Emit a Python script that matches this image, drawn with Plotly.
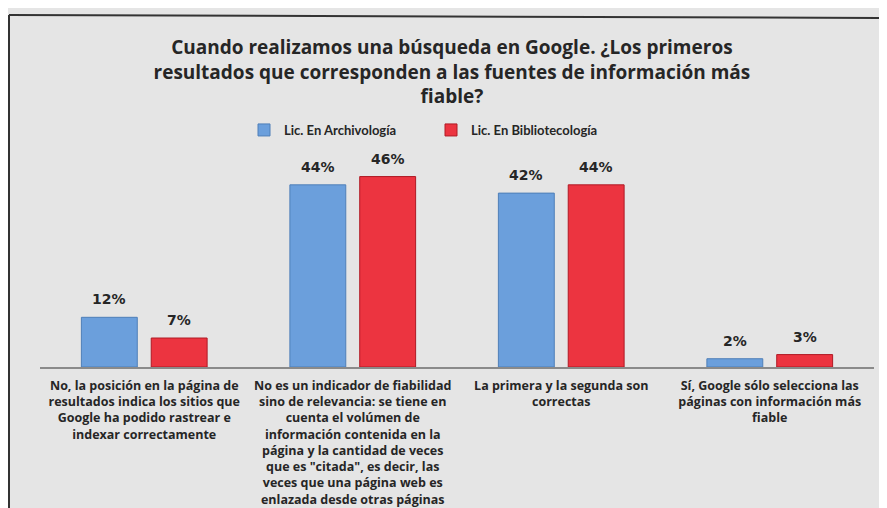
import plotly.graph_objects as go

categories = [
    "No, la posición en la página de<br>resultados indica los sitios que<br>Google ha podido rastrear e<br>indexar correctamente",
    "No es un indicador de fiabilidad<br>sino de relevancia: se tiene en<br>cuenta el volúmen de<br>información contenida en la<br>página y la cantidad de veces<br>que es \"citada\", es decir, las<br>veces que una página web es<br>enlazada desde otras páginas",
    "La primera y la segunda son<br>correctas",
    "Sí, Google sólo selecciona las<br>páginas con información más<br>fiable",
]
archivologia = [12, 44, 42, 2]
bibliotecologia = [7, 46, 44, 3]

title = ("Cuando realizamos una búsqueda en Google. ¿Los primeros<br>"
         "resultados que corresponden a las fuentes de información más<br>fiable?")

# the page body keeps an 8px margin, so the figure is drawn 8px smaller
W, H = 879, 500
L, R, T, B = 32, 13, 152, 141
dark = "#262626"

fig = go.Figure()
series = [
    ("Lic. En Archivología", archivologia, "#6b9fdc", "#4f7fb8", -35),
    ("Lic. En Bibliotecología", bibliotecologia, "#ec3440", "#b01a24", 35),
]
for name, vals, fill, edge, shift in series:
    fig.add_trace(go.Bar(
        name=name, x=categories, y=vals,
        marker=dict(color=fill, line=dict(color=edge, width=1)),
    ))
    # value labels sit a little higher than plotly's "outside" text
    for cat, v in zip(categories, vals):
        fig.add_annotation(x=cat, y=v, text=f"{v}%", showarrow=False,
                           xshift=shift, yshift=8, yanchor="bottom",
                           font=dict(size=14, color=dark, family="DejaVu Sans", weight="bold"))

fig.update_layout(
    width=W, height=H,
    margin=dict(l=L, r=R, t=T, b=B, autoexpand=False),
    paper_bgcolor="#e5e5e5", plot_bgcolor="#e5e5e5",
    font=dict(family="Open Sans", color=dark),
    barmode="group", bargap=0.33, bargroupgap=0.2,
    title=dict(text=title, x=0.505, xref="container", xanchor="center",
               y=1 - 46 / H, yref="container", yanchor="top",
               font=dict(size=19, color=dark, family="Open Sans", weight="bold")),
    legend=dict(orientation="h", x=236 / W, xref="container", xanchor="left",
                y=1 - 122 / H, yref="container", yanchor="middle",
                font=dict(size=13, color=dark, family="Lato", weight="bold"),
                bgcolor="rgba(0,0,0,0)", itemwidth=30, entrywidth=142),
    xaxis=dict(showline=True, linecolor="#8a8a8a", linewidth=1.5, ticks="",
               ticklabelstandoff=6,
               tickfont=dict(size=12.5, color=dark, family="Open Sans", weight="bold"),
               showgrid=False),
    yaxis=dict(range=[0, 50], visible=False, showgrid=False),
)

# outer border of the printed chart
px_x = lambda p: (p - L) / (W - L - R)
px_y = lambda p: (H - B - p) / (H - T - B)
fig.add_shape(type="line", xref="paper", yref="paper",
              x0=px_x(1), x1=px_x(1), y0=px_y(7), y1=px_y(510),
              line=dict(color="#333", width=2))
fig.add_shape(type="line", xref="paper", yref="paper",
              x0=px_x(1), x1=px_x(890), y0=px_y(7), y1=px_y(10),
              line=dict(color="#333", width=2))

fig.write_html("out.html")
